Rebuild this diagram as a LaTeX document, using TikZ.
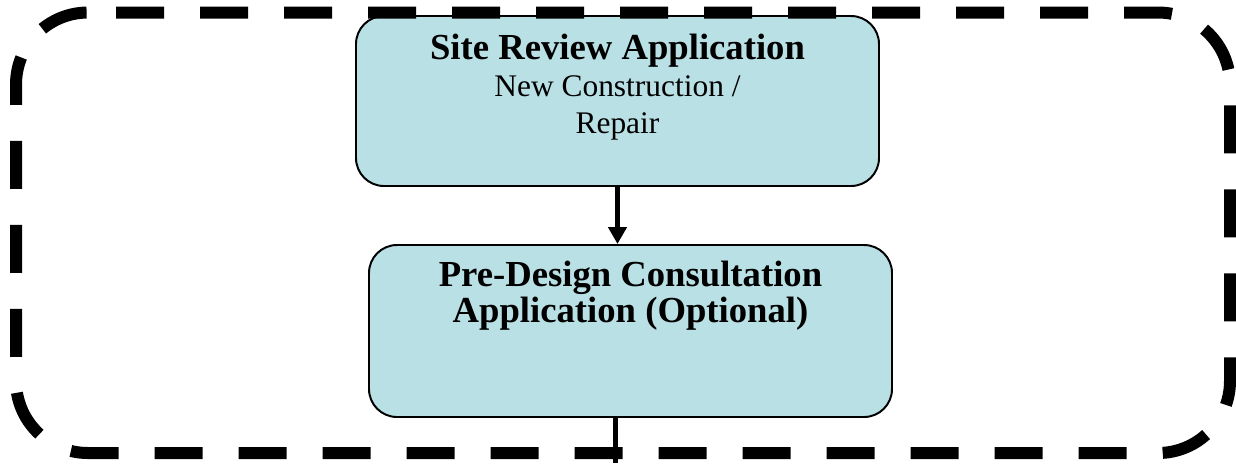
\documentclass[tikz,border=0pt]{standalone}
\usepackage{fontspec}
\setmainfont{Liberation Serif}
\usepackage{tikz}
\usetikzlibrary{calc, arrows.meta, positioning}
\newlength{\px}
\setlength{\px}{0.3817pt}
\definecolor{boxfill}{RGB}{185,224,228}
\newcommand{\titlefont}{\fontsize{14}{13.4}\selectfont\bfseries}
\newcommand{\bodyfont}{\fontsize{12}{14}\selectfont}
\tikzset{
    boxnode/.style = {draw, rectangle, rounded corners=28\px, fill=boxfill, line width=0.75pt,
      minimum width=523\px, inner sep=0em},
    textnode/.style = {draw=none, fill=none, rectangle, inner sep=0em, align=center},
    dashframe/.style = {black, line width=12\px, dash pattern=on 48\px off 36\px, rounded corners=72\px},
    connect/.style = {black, line width=5\px, -{Triangle[width=6.9pt, length=6.5pt]}},
    plainline/.style = {black, line width=5\px}
}

\begin{document}
\begin{tikzpicture}[x=\px, y=-\px]
\useasboundingbox (0,0) rectangle (1236,463);

\node [boxnode, name=site, minimum height=170\px] at (617.5,101) {};
\node [boxnode, name=predesign, minimum height=172\px] at (630.5,331) {};

% base = baseline of the last line
\node [textnode, name=siteText, anchor=base, font=\bodyfont] at ($(site.north)+(0,118)$)
  {{\titlefont Site Review Application}\\New Construction /\\Repair};
\node [textnode, name=predesignText, anchor=base, font=\titlefont] at ($(predesign.north)+(0,78)$)
  {Pre-Design Consultation\\Application (Optional)};

% dashed frame round both steps (open path, so the dashes start at x=116)
\draw [dashframe] (116,12.5) -- (1230,12.5) -- (1230,453) -- (16,453) -- (16,12.5) -- (116,12.5);

\draw [connect] (site.south) -- (site.south |- predesign.north);
\coordinate (out) at (615,463);
\draw [plainline] (predesign.south -| out) -- (out);

\end{tikzpicture}
\end{document}
